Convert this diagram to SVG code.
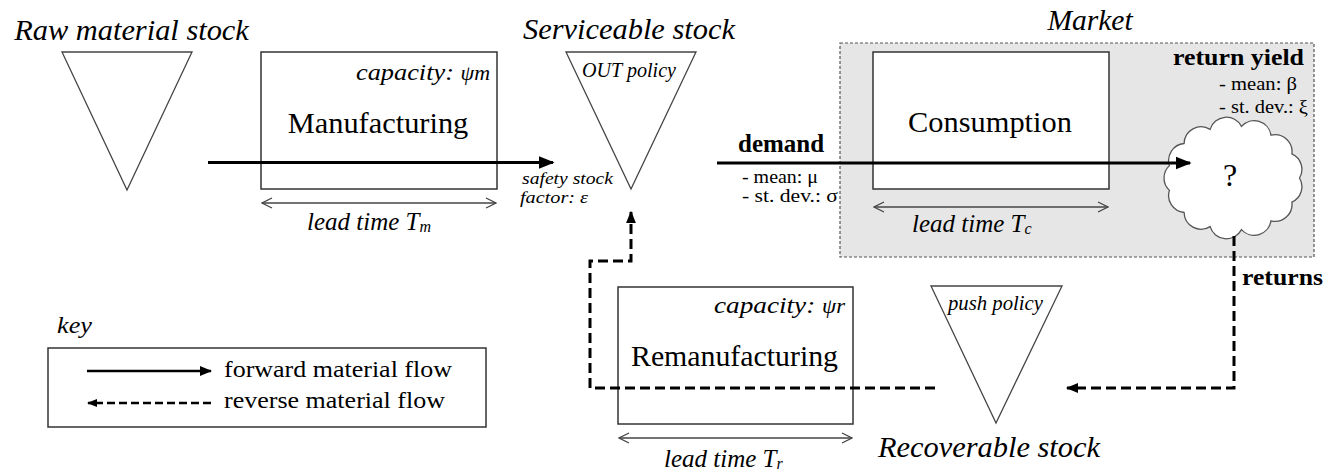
<svg xmlns="http://www.w3.org/2000/svg" width="1337" height="472" viewBox="0 0 1337 472">
<style>
text{font-family:"Liberation Serif","Times New Roman",serif;fill:#000}
.it{font-style:italic}
.b{font-weight:bold}
.big{font-size:30.4px}
.tri{fill:#fff;stroke:#444;stroke-width:1.3}
.box{fill:#fff;stroke:#333;stroke-width:1.5}
.fwd{fill:none;stroke:#000;stroke-width:3.2}
.rev{fill:none;stroke:#000;stroke-width:3;stroke-dasharray:10,5}
.lt{fill:none;stroke:#444;stroke-width:1.3}
</style>
<defs>
<marker id="ah" viewBox="0 0 10 10" refX="9" refY="5" markerWidth="5" markerHeight="5" markerUnits="strokeWidth" orient="auto"><path d="M0,1 L10,5 L0,9 Z" fill="#000"/></marker>
<marker id="ahd" viewBox="0 0 10 10" refX="9" refY="5" markerWidth="4.2" markerHeight="4.2" markerUnits="strokeWidth" orient="auto"><path d="M0,1 L10,5 L0,9 Z" fill="#000"/></marker>
<marker id="ch" viewBox="0 0 12 12" refX="11" refY="6" markerWidth="12" markerHeight="12" markerUnits="userSpaceOnUse" orient="auto-start-reverse"><path d="M1,1 L11,6 L1,11" fill="none" stroke="#444" stroke-width="1.3"/></marker>
</defs>
<g id="market">
<rect x="840" y="43" width="474" height="214" fill="#e6e6e6" stroke="#555" stroke-width="1.2" stroke-dasharray="3,2"/>
<text class="it" x="1090" y="30" font-size="29.5" text-anchor="middle">Market</text>
</g>

<g id="raw-material-stock">
<polygon class="tri" points="62,52 192,52 127,190"/>
<text class="it big" x="131.5" y="40" text-anchor="middle">Raw material stock</text>
</g>

<g id="manufacturing">
<rect class="box" x="261" y="52" width="236" height="137"/>
<text class="big" x="378" y="133" text-anchor="middle">Manufacturing</text>
<text class="it" x="490" y="80" font-size="24" text-anchor="end" textLength="134" lengthAdjust="spacingAndGlyphs">capacity: <tspan font-size="20">ψm</tspan></text>
<line class="lt" x1="262" y1="203" x2="496" y2="203" marker-start="url(#ch)" marker-end="url(#ch)"/>
<text class="it" x="307" y="230" font-size="25">lead time T<tspan font-size="16" dy="2">m</tspan></text>
</g>

<g id="serviceable-stock">
<polygon class="tri" points="566,52 696,52 631,189"/>
<text class="it big" x="629" y="39" text-anchor="middle">Serviceable stock</text>
<text class="it" x="629" y="77" font-size="20" text-anchor="middle" textLength="94" lengthAdjust="spacingAndGlyphs">OUT policy</text>
<text class="it" x="522" y="184" font-size="16" textLength="91" lengthAdjust="spacingAndGlyphs">safety stock</text>
<text class="it" x="520" y="203" font-size="16" textLength="68" lengthAdjust="spacingAndGlyphs">factor: ε</text>
</g>

<g id="consumption">
<rect class="box" x="873" y="52" width="236" height="137"/>
<text class="big" x="990" y="132" text-anchor="middle">Consumption</text>
<line class="lt" x1="874" y1="207" x2="1108" y2="207" marker-start="url(#ch)" marker-end="url(#ch)"/>
<text class="it" x="912" y="232" font-size="25">lead time T<tspan font-size="16" dy="2">c</tspan></text>
</g>

<g id="return-yield">
<path d="M1299.5,178 A17,17 0 0 1 1291.9,202.2 A17,17 0 0 1 1271,220.8 A17,17 0 0 1 1241.5,229.6 A17,17 0 0 1 1210.1,226.6 A17,17 0 0 1 1184.1,212.5 A17,17 0 0 1 1169.4,190.4 A17,17 0 0 1 1169.4,165.6 A17,17 0 0 1 1184.1,143.5 A17,17 0 0 1 1210.1,129.4 A17,17 0 0 1 1241.5,126.4 A17,17 0 0 1 1271,135.2 A17,17 0 0 1 1291.9,153.8 A17,17 0 0 1 1299.5,178 Z" fill="#fff" stroke="#555" stroke-width="1.3"/>
<text x="1230" y="186" font-size="32" text-anchor="middle">?</text>
<text class="b" x="1304" y="65" font-size="24" text-anchor="end" textLength="131" lengthAdjust="spacingAndGlyphs">return yield</text>
<text x="1219" y="90" font-size="18" textLength="78" lengthAdjust="spacingAndGlyphs">- mean: β</text>
<text x="1219" y="113" font-size="18" textLength="89" lengthAdjust="spacingAndGlyphs">- st. dev.: ξ</text>
</g>

<g id="remanufacturing">
<rect class="box" x="618" y="287" width="235" height="137"/>
<text class="big" x="734.5" y="366" text-anchor="middle" textLength="207" lengthAdjust="spacingAndGlyphs">Remanufacturing</text>
<text class="it" x="845" y="313" font-size="24" text-anchor="end" textLength="131" lengthAdjust="spacingAndGlyphs">capacity: <tspan font-size="20">ψr</tspan></text>
<line class="lt" x1="619" y1="438" x2="852" y2="438" marker-start="url(#ch)" marker-end="url(#ch)"/>
<text class="it" x="664" y="467" font-size="25">lead time T<tspan font-size="16" dy="2">r</tspan></text>
</g>

<g id="recoverable-stock">
<polygon class="tri" points="931,286 1062,286 996,423"/>
<text class="it" x="995.5" y="310" font-size="20" text-anchor="middle" textLength="95" lengthAdjust="spacingAndGlyphs">push policy</text>
<text class="it big" x="989" y="457" text-anchor="middle">Recoverable stock</text>
</g>

<g id="connectors">
<line class="fwd" x1="208" y1="162.5" x2="553" y2="162.5" marker-end="url(#ah)"/>
<line class="fwd" x1="717" y1="163" x2="1190" y2="163" marker-end="url(#ah)"/>
<text class="b" x="738" y="152" font-size="25">demand</text>
<text x="742" y="183" font-size="18" textLength="76" lengthAdjust="spacingAndGlyphs">- mean: μ</text>
<text x="742" y="202" font-size="18" textLength="96" lengthAdjust="spacingAndGlyphs">- st. dev.: σ</text>
<polyline class="rev" points="1234,236 1234,388 1067,388" marker-end="url(#ahd)"/>
<text class="b" x="1242" y="285" font-size="24" textLength="81" lengthAdjust="spacingAndGlyphs">returns</text>
<polyline class="rev" points="935,388 590,388 590,261 631,261 631,212" marker-end="url(#ahd)"/>
</g>

<g id="key">
<text class="it" x="57" y="333" font-size="24" textLength="35" lengthAdjust="spacingAndGlyphs">key</text>
<rect x="48" y="348" width="438" height="79" fill="#fff" stroke="#333" stroke-width="1.5"/>
<line x1="87" y1="371" x2="211" y2="371" stroke="#000" stroke-width="2.5" marker-end="url(#ah)"/>
<text x="224" y="377" font-size="23.5" textLength="228" lengthAdjust="spacingAndGlyphs">forward material flow</text>
<line x1="211" y1="403" x2="88" y2="403" stroke="#000" stroke-width="2.5" stroke-dasharray="8,4" marker-end="url(#ahd)"/>
<text x="224" y="408" font-size="23.5" textLength="221" lengthAdjust="spacingAndGlyphs">reverse material flow</text>
</g>
</svg>
